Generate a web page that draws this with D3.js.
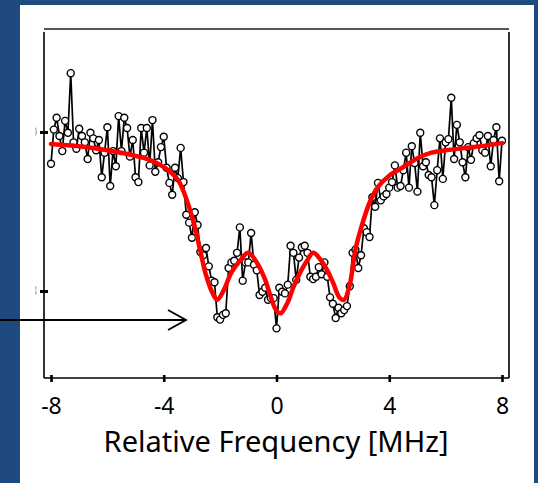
<!DOCTYPE html>
<html>
<head>
<meta charset="utf-8">
<script src="https://cdn.jsdelivr.net/npm/d3@7"></script>
<style>
  html, body { margin: 0; padding: 0; background: #1f4a7e; }
  svg { display: block; }
</style>
</head>
<body>
<div id="chart"></div>
<script>
// sampling grid of the measured spectrum (MHz)
const freqStart = -8;
const freqStep = 0.1;

const signal = [
  0.960, 1.003, 1.018, 0.995, 0.976, 1.014, 0.999, 1.074, 0.987, 0.979,
  1.004, 0.995, 0.987, 0.966, 0.999, 0.992, 0.977, 0.990, 0.943, 0.974,
  1.006, 0.932, 0.976, 0.957, 1.020, 0.976, 1.018, 1.005, 0.969, 0.990,
  0.943, 0.937, 1.005, 0.974, 1.005, 0.958, 1.015, 0.950, 0.962, 0.981,
  0.994, 0.955, 0.936, 0.921, 0.955, 0.942, 0.980, 0.937, 0.896, 0.886,
  0.867, 0.899, 0.883, 0.849, 0.845, 0.854, 0.831, 0.813, 0.811, 0.767,
  0.764, 0.770, 0.772, 0.829, 0.836, 0.838, 0.848, 0.880, 0.813, 0.836,
  0.836, 0.873, 0.833, 0.826, 0.795, 0.799, 0.804, 0.789, 0.791, 0.791,
  0.753, 0.804, 0.799, 0.797, 0.808, 0.857, 0.848, 0.814, 0.842, 0.855,
  0.857, 0.848, 0.818, 0.815, 0.818, 0.830, 0.821, 0.836, 0.818, 0.792,
  0.784, 0.766, 0.779, 0.772, 0.776, 0.781, 0.806, 0.848, 0.852, 0.829,
  0.845, 0.879, 0.874, 0.868, 0.918, 0.906, 0.936, 0.914, 0.919, 0.922,
  0.930, 0.937, 0.958, 0.930, 0.932, 0.952, 0.974, 0.930, 0.982, 0.961,
  0.925, 0.999, 0.957, 0.962, 0.946, 0.943, 0.908, 0.952, 0.992, 0.941,
  0.987, 0.991, 1.043, 0.966, 1.009, 0.987, 0.962, 0.943, 0.981, 0.965,
  0.986, 0.992, 0.996, 0.977, 0.974, 0.995, 0.957, 0.990, 1.006, 0.938,
  0.989
];

// fitted curve (red), read at these frequencies
const fitFreq = [-8, -7, -6, -5, -4.5, -4, -3.5, -3, -2.75, -2.5, -2.25, -2.1, -1.9, -1.6, -1.3, -1.0,
  -0.7, -0.4, -0.2, 0, 0.15, 0.4, 0.6, 0.85, 1.1, 1.3, 1.55, 1.8, 2.0, 2.25, 2.4, 2.6, 2.8,
  3.0, 3.3, 3.6, 4.0, 4.5, 5, 5.5, 6, 7, 8];
const fitValue = [0.985, 0.982, 0.977, 0.970, 0.965, 0.956, 0.940, 0.894, 0.858, 0.820, 0.796, 0.789, 0.799, 0.823, 0.838, 0.848,
  0.836, 0.814, 0.792, 0.775, 0.772, 0.786, 0.805, 0.824, 0.839, 0.848, 0.840, 0.826, 0.811, 0.791, 0.789, 0.808, 0.852,
  0.879, 0.911, 0.931, 0.945, 0.956, 0.967, 0.974, 0.977, 0.981, 0.986];

const xTicks = [-8, -4, 0, 4, 8];
const yTicks = [0.8, 1.0];
const yTickLabels = ["0.8", "1.0"];
const xTitle = "Relative Frequency [MHz]";

const W = 538, H = 483;
const svg = d3.select("#chart").append("svg")
  .attr("width", W)
  .attr("height", H);

// white slide panel
svg.append("rect")
  .attr("x", 20).attr("y", 5)
  .attr("width", 514).attr("height", H - 5)
  .attr("fill", "#fff");

const x = d3.scaleLinear().domain([-8, 8]).range([51, 502]);
const y = d3.scaleLinear().domain([0.8, 1.0]).range([291, 132]);

const frameL = 44, frameR = 509, frameT = 32, frameB = 378;

// frame
svg.append("line")
  .attr("x1", frameL).attr("x2", frameR).attr("y1", 29).attr("y2", 29)
  .attr("stroke", "#555").attr("stroke-width", 2);
[[frameL, frameL, frameT, frameB], [frameR, frameR, frameT, frameB], [frameL, frameR, frameB, frameB]]
  .forEach(s => {
    svg.append("line")
      .attr("x1", s[0]).attr("x2", s[1]).attr("y1", s[2]).attr("y2", s[3])
      .attr("stroke", "#000").attr("stroke-width", 1.6);
  });

// bottom axis
const xAxis = svg.append("g")
  .attr("transform", `translate(0,${frameB})`)
  .call(d3.axisBottom(x).tickValues(xTicks).tickSize(6).tickPadding(14)
    .tickFormat(d => d));
xAxis.select(".domain").remove();
xAxis.selectAll(".tick line")
  .attr("y1", -3).attr("y2", 4)
  .attr("stroke", "#000").attr("stroke-width", 2.6);
xAxis.selectAll(".tick text")
  .attr("fill", "#000")
  .style("font-family", "'Noto Sans', sans-serif")
  .style("font-size", "23px");

// left axis ticks; their labels are cut off by the slide edge
const yAxis = svg.append("g")
  .attr("transform", `translate(${frameL},0)`)
  .call(d3.axisLeft(y).tickValues(yTicks).tickSize(4).tickFormat(""));
yAxis.select(".domain").remove();
yAxis.selectAll(".tick line")
  .attr("x1", -4).attr("x2", 4)
  .attr("stroke", "#000").attr("stroke-width", 3);

svg.append("clipPath").attr("id", "yclip")
  .append("rect").attr("x", 35).attr("y", 0).attr("width", 2).attr("height", H);
svg.append("g").attr("clip-path", "url(#yclip)")
  .selectAll("text")
  .data(yTicks)
  .join("text")
  .attr("x", 37.5).attr("y", d => y(d)).attr("dy", "0.32em")
  .attr("text-anchor", "end")
  .attr("fill", "#aaa")
  .style("font-family", "'Noto Sans', sans-serif")
  .style("font-size", "13px")
  .text((d, i) => yTickLabels[i]);

// data
const points = signal.map((v, i) => ({ f: freqStart + i * freqStep, v: v }));

svg.append("path")
  .datum(points)
  .attr("fill", "none")
  .attr("stroke", "#000")
  .attr("stroke-width", 1.7)
  .attr("stroke-linejoin", "round")
  .attr("d", d3.line().x(d => x(d.f)).y(d => y(d.v)));

svg.append("g").selectAll("circle")
  .data(points)
  .join("circle")
  .attr("cx", d => x(d.f))
  .attr("cy", d => y(d.v))
  .attr("r", 3.5)
  .attr("fill", "#fff")
  .attr("stroke", "#000")
  .attr("stroke-width", 1.4);

// fit
const fit = fitFreq.map((f, i) => ({ f: f, v: fitValue[i] }));
svg.append("path")
  .datum(fit)
  .attr("fill", "none")
  .attr("stroke", "#ff0000")
  .attr("stroke-width", 4.5)
  .attr("stroke-linecap", "round")
  .attr("d", d3.line().curve(d3.curveCatmullRom).x(d => x(d.f)).y(d => y(d.v)));

// axis title
const title = svg.append("text")
  .attr("x", 276)
  .attr("y", 452)
  .attr("text-anchor", "middle")
  .attr("fill", "#000")
  .style("font-family", "'Noto Sans', sans-serif")
  .style("font-size", "28px")
  .text(xTitle);
const tw = title.node().getComputedTextLength();
title.style("font-size", (28 * 345 / tw).toFixed(2) + "px");

// arrow pointing at the left dip
svg.append("line")
  .attr("x1", 0).attr("x2", 185).attr("y1", 320).attr("y2", 320)
  .attr("stroke", "#000").attr("stroke-width", 1.8);
svg.append("path")
  .attr("d", "M168,310 L186,320 L168,330")
  .attr("fill", "none")
  .attr("stroke", "#000").attr("stroke-width", 1.8);
</script>
</body>
</html>
